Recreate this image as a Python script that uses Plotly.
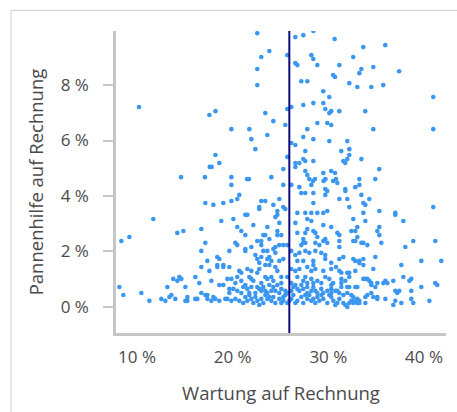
import plotly.graph_objects as go

# Wartung auf Rechnung (%) je Betrieb
wartung = [
    10.2, 17.56, 18.2, 18.2, 18.6, 17.6, 17.8, 14.6, 17.1,
    22.57, 26.55, 27.38, 28.43, 30.66, 23.83, 22.99, 25.71, 28.22, 28.43,
    26.55, 26.76, 28.85, 22.57, 30.5, 30.7, 22.57, 27.17, 27.8, 29.47, 30.1, 29.47,
    28.43, 27.38, 26.13, 25.71, 29.68, 30.3, 30.1, 23.41, 24.25, 28.85, 29.89, 30.3, 25.5,
    19.86, 21.74, 27.8, 23.62, 21.95, 27.38, 28.43, 30.1, 22.37, 26.13, 26.55, 27.59, 25.71,
    27.38, 27.59, 28.43, 26.55, 26.97, 26.55, 25.29, 27.59, 27.8, 28.01, 29.47, 30.3, 30.7,
    19.86, 21.5, 21.7, 24.04, 28.4, 28.6, 29.5, 29.7, 30.5, 19.86, 25.29, 26.13, 26.97, 28.22, 29.68,
    35.95, 33.65, 32.6, 31.15, 33.45, 33.24, 34.7, 37.4, 32.19, 33.03, 34.49, 35.74, 40.97,
    31.15, 33.86, 34.7, 40.97, 31.98, 31.35, 32.19, 32.19, 31.56, 31.77, 31.98, 33.45, 35.32,
    30.8, 30.94, 33.24, 34.91, 33.24, 32.82, 31.77,
    17.14, 17.98, 19.02, 11.70, 18.81, 14.21, 14.84, 16.72, 8.36, 9.20, 17.14, 16.72, 17.35,
    18.39, 18.6, 18.39, 18.39, 19.02, 19.02, 16.72, 17.56, 13.79, 14.21, 14.42, 14.63, 16.09,
    16.51, 17.77, 18.6, 19.02, 8.15, 13.17, 15.05, 16.72, 8.57, 10.45, 13.59, 13.38, 12.54,
    12.96, 14.0, 11.29, 15.26, 15.05, 15.26, 16.09, 16.3, 17.14, 17.35, 17.35, 17.98, 18.18,
    17.77, 18.6, 19.23,
    27.17, 27.59, 28.43, 29.68, 29.89, 20.69, 19.86, 20.48, 22.99, 23.41, 24.87, 22.78, 22.78,
    24.25, 25.29, 25.50, 28.43, 26.76, 27.59, 28.22, 28.85, 29.47, 29.89, 24.67, 24.67, 24.46,
    21.32, 21.53, 20.07, 22.16, 23.62, 24.87, 26.55, 27.8, 28.22, 29.47, 30.3, 20.48, 20.90,
    21.32, 23.2, 23.41, 24.67, 24.67, 25.08, 26.76, 27.8, 27.59, 28.43, 28.64, 28.85, 23.83,
    22.57, 22.99, 20.28, 20.48, 27.38, 27.38, 29.47, 29.68, 29.89, 25.71, 24.46, 24.87, 25.29,
    21.95, 21.32, 22.99, 27.17, 27.59, 28.64, 29.06, 19.65, 21.32, 23.2, 23.62, 24.25, 24.46,
    26.13, 26.55, 26.97, 27.59, 28.01, 28.64, 29.26, 29.68, 22.37, 22.57, 22.78, 22.99, 23.62,
    23.83, 24.04, 23.83, 23.41, 24.87, 25.29, 26.76, 27.38, 28.43, 28.43, 29.68, 30.3, 19.65,
    20.69, 20.9, 21.53, 21.95, 22.78, 22.57, 24.46, 24.67, 26.13, 26.55, 26.97, 27.8, 28.22,
    28.64, 29.47, 30.3, 19.44, 19.86, 20.48, 20.9, 21.74, 21.95, 22.16, 23.41, 23.62, 24.04,
    24.25, 25.08, 25.71, 25.08, 26.76, 27.38, 27.59, 27.17, 28.22, 28.43, 28.85, 29.68, 30.1,
    30.5, 20.07, 19.65, 21.11, 21.53, 21.95, 22.57, 22.78, 23.2, 23.41, 24.25, 24.46, 25.08,
    25.5, 26.34, 26.76, 27.38, 27.8, 28.43, 28.64, 29.26, 29.89, 30.3,
    19.44, 20.28, 21.95, 22.99, 23.62, 24.87, 26.13, 27.8, 29.47, 28.43,
    19.86, 20.69, 21.53, 22.58, 24.04, 25.29, 26.76, 28.22, 29.06, 30.52, 25.92,
    21.11, 22.16, 23.2, 24.46, 25.71, 27.38, 28.64, 29.89, 25.08, 26.55,
    22.78, 30.73,
    22.37, 27.17, 28.85, 30.31, 21.32, 23.83, 24.25, 25.29,
    25.5, 26.34, 28.01, 21.74, 23.41, 27.59, 29.27, 30.1,
    19.65, 20.9, 21.74, 22.37, 23.62, 24.87, 25.71, 27.8, 28.85, 29.47, 30.31,
    20.48, 22.99, 24.04, 26.13, 26.97, 28.22, 30.73,
    20.28, 22.99, 26.13, 27.8, 29.27,
    21.32, 23.83, 24.67, 26.55, 30.31,
    31.78, 33.45, 31.15, 31.98, 34.28, 33.66, 33.87, 32.19, 40.97, 35.33, 33.66, 37.0, 37.0,
    32.61, 33.87, 37.84, 33.03, 35.33, 32.4, 32.82, 35.12, 35.33, 30.94, 31.15, 33.03, 32.61,
    32.82, 31.15, 33.45, 33.66, 34.08, 35.54, 38.88, 41.18, 31.15, 38.05, 31.57, 31.15, 32.61,
    32.82, 33.24, 33.24, 33.66, 33.66, 34.91, 34.7, 37.63, 39.72, 41.81, 30.8, 31.15, 31.36,
    31.98, 32.19, 32.19, 32.82, 31.36, 31.36, 31.78, 31.36, 31.98, 32.19, 32.82, 33.03, 33.66,
    33.87, 34.08, 34.28, 34.49, 34.49, 35.12, 34.91, 35.75, 35.96, 36.17, 36.79, 37.84, 38.47,
    38.67, 39.72, 41.18, 41.39, 37.0, 37.21, 37.42, 38.67, 30.94, 31.15, 31.57, 31.98, 32.4,
    32.61, 33.03, 33.24, 33.87, 34.08, 34.49, 34.7, 35.12, 35.12, 35.96, 37.0, 36.79, 37.63,
    38.67, 38.88, 40.56, 31.15, 30.94, 31.57, 31.78, 31.98, 32.19, 32.4, 32.61, 32.82, 33.03,
    33.24, 33.87,
]

# Pannenhilfe auf Rechnung (%) je Betrieb, gleiche Reihenfolge
pannenhilfe = [
    7.21, 6.92, 7.06, 5.48, 5.19, 5.05, 5.05, 4.68, 4.68,
    9.87, 9.73, 9.80, 9.95, 9.66, 9.23, 9.01, 9.08, 9.08, 8.94,
    8.79, 8.72, 8.72, 8.58, 8.36, 8.29, 8.0, 8.14, 8.14, 7.78, 7.57, 7.35,
    7.35, 7.28, 7.21, 7.14, 7.14, 7.06, 6.99, 6.99, 6.70, 6.63, 6.63, 6.56, 6.56,
    6.41, 6.41, 6.41, 6.20, 6.05, 6.13, 6.05, 5.98, 5.69, 5.91, 5.84, 5.62, 5.41,
    5.33, 5.26, 5.26, 5.19, 5.19, 5.05, 4.97, 4.90, 4.76, 4.61, 4.83, 4.90, 4.83,
    4.68, 4.61, 4.61, 4.68, 4.54, 4.61, 4.54, 4.61, 4.54, 4.40, 4.40, 4.40, 4.32, 4.40, 4.25,
    9.44, 9.37, 9.01, 8.72, 8.58, 8.43, 8.65, 8.50, 8.07, 7.93, 7.93, 8.00, 7.57,
    7.06, 7.06, 6.41, 6.41, 5.98, 5.62, 5.69, 5.48, 5.26, 5.19, 5.33, 5.33, 4.97,
    4.61, 4.47, 4.61, 4.61, 4.40, 4.32, 4.25,
    3.75, 3.68, 3.75, 3.17, 3.10, 2.67, 2.74, 2.81, 2.38, 2.52, 2.31, 2.02, 1.66,
    1.80, 1.73, 1.51, 1.44, 1.51, 1.44, 1.44, 1.30, 1.01, 0.94, 1.08, 1.01, 1.08,
    0.86, 0.94, 0.79, 0.79, 0.72, 0.72, 0.72, 0.50, 0.43, 0.50, 0.43, 0.36, 0.29,
    0.22, 0.29, 0.22, 0.36, 0.22, 0.22, 0.29, 0.29, 0.43, 0.43, 0.29, 0.36, 0.29,
    0.22, 0.22, 0.29,
    4.11, 4.11, 4.11, 4.04, 4.18, 4.04, 3.82, 3.89, 3.82, 3.82, 3.89, 3.60, 3.53,
    3.68, 3.60, 3.53, 3.75, 3.39, 3.39, 3.39, 3.39, 3.39, 3.46, 3.46, 3.32, 3.24,
    3.32, 3.32, 3.17, 2.95, 2.88, 3.03, 3.03, 3.17, 3.10, 2.95, 2.88, 2.88, 2.74,
    2.59, 2.59, 2.59, 2.74, 2.59, 2.59, 2.67, 2.81, 2.67, 2.74, 2.67, 2.52, 2.45,
    2.38, 2.38, 2.31, 2.23, 2.45, 2.31, 2.38, 2.45, 2.31, 2.23, 2.16, 2.23, 2.23,
    2.16, 2.09, 2.23, 2.23, 2.31, 2.31, 2.23, 2.02, 2.02, 2.02, 2.02, 2.09, 1.95,
    2.02, 1.87, 1.95, 2.02, 1.95, 2.02, 1.95, 1.87, 1.87, 1.73, 1.59, 1.80, 1.73,
    1.80, 1.66, 1.51, 1.51, 1.66, 1.73, 1.66, 1.66, 1.66, 1.51, 1.73, 1.59, 1.44,
    1.30, 1.23, 1.37, 1.30, 1.37, 1.23, 1.44, 1.30, 1.37, 1.30, 1.37, 1.44, 1.30,
    1.37, 1.30, 1.37, 1.01, 1.01, 1.08, 0.94, 1.08, 1.01, 0.94, 1.08, 1.01, 1.08,
    0.94, 1.08, 1.08, 0.86, 1.08, 0.94, 1.08, 0.79, 1.01, 0.86, 0.94, 1.08, 1.01,
    0.86, 0.65, 0.65, 0.72, 0.65, 0.72, 0.72, 0.65, 0.72, 0.58, 0.72, 0.58, 0.65,
    0.58, 0.72, 0.65, 0.65, 0.72, 0.72, 0.58, 0.65, 0.58, 0.65,
    0.29, 0.29, 0.29, 0.29, 0.29, 0.29, 0.29, 0.29, 0.29, 0.29,
    0.22, 0.22, 0.22, 0.22, 0.22, 0.22, 0.22, 0.22, 0.22, 0.22, 0.22,
    0.14, 0.14, 0.14, 0.14, 0.14, 0.14, 0.14, 0.14, 0.14, 0.14,
    0.07, 0.07,
    0.36, 0.36, 0.36, 0.36, 0.36, 0.36, 0.36, 0.36,
    0.43, 0.43, 0.43, 0.43, 0.43, 0.43, 0.43, 0.43,
    0.50, 0.50, 0.50, 0.50, 0.50, 0.50, 0.50, 0.50, 0.50, 0.50, 0.50,
    0.58, 0.58, 0.58, 0.58, 0.58, 0.58, 0.58,
    0.86, 0.86, 0.86, 0.86, 0.86,
    0.79, 0.79, 0.79, 0.79, 0.79,
    4.18, 4.04, 3.89, 3.89, 3.89, 3.75, 3.68, 3.60, 3.60, 3.46, 3.39, 3.39, 3.32,
    3.17, 3.10, 3.10, 2.88, 2.88, 2.74, 2.74, 2.74, 2.59, 2.67, 2.59, 2.52, 2.38,
    2.38, 2.38, 2.31, 2.31, 2.23, 2.31, 2.38, 2.38, 2.16, 2.16, 1.80, 1.73, 1.73,
    1.66, 1.66, 1.58, 1.73, 1.51, 1.80, 1.37, 1.51, 1.66, 1.66, 1.44, 1.30, 1.23,
    1.23, 1.23, 1.08, 1.30, 1.01, 0.86, 0.94, 0.72, 0.72, 0.72, 0.72, 0.72, 1.01,
    1.01, 1.01, 0.94, 0.86, 0.79, 0.86, 0.72, 0.86, 0.94, 0.86, 0.94, 1.08, 0.94,
    1.01, 0.72, 0.86, 0.79, 0.58, 0.50, 0.58, 0.58, 0.58, 0.50, 0.43, 0.50, 0.43,
    0.36, 0.29, 0.22, 0.36, 0.43, 0.50, 0.36, 0.36, 0.29, 0.29, 0.22, 0.07, 0.14,
    0.29, 0.14, 0.22, 0.29, 0.14, 0.14, 0.07, 0.0, 0.14, 0.22, 0.14, 0.22, 0.14,
    0.14, 0.14,
]

# Senkrechte Referenzlinie (Mittelwert Wartung)
mittelwert_wartung = 25.92

x_ticks = [10, 20, 30, 40]
x_ticktext = ["10 %", "20 %", "30 %", "40 %"]
y_ticks = [0, 2, 4, 6, 8]
y_ticktext = ["0 %", "2 %", "4 %", "6 %", "8 %"]

achsen_grau = "#c6c6c6"
text_grau = "#4a4a4a"
schrift = "Open Sans"

fig = go.Figure()
fig.add_trace(go.Scatter(
    x=wartung,
    y=pannenhilfe,
    mode="markers",
    marker=dict(size=4.6, color="#3a96ef", line=dict(width=0)),
    hoverinfo="x+y",
    showlegend=False,
))

# Mittelwertlinie über die ganze Plothöhe
fig.add_shape(
    type="line", xref="x", yref="paper",
    x0=mittelwert_wartung, x1=mittelwert_wartung, y0=0, y1=1,
    line=dict(color="#0b0b7e", width=2),
)

# heller Rahmen um den Diagrammbereich
fig.add_shape(
    type="rect", xref="paper", yref="paper",
    x0=-0.318, x1=1.2, y0=-0.3, y1=1.068,
    line=dict(color="#d6d6d6", width=1.2),
    fillcolor="rgba(0,0,0,0)",
    layer="below",
)

fig.update_layout(
    width=457,
    height=412,
    margin=dict(l=116, r=11, t=31, b=79),
    paper_bgcolor="white",
    plot_bgcolor="white",
    font=dict(family=schrift, color=text_grau, size=17),
    xaxis=dict(
        range=[7.8, 42.3],
        tickvals=x_ticks,
        ticktext=x_ticktext,
        showgrid=False,
        zeroline=False,
        showline=True,
        linecolor=achsen_grau,
        linewidth=2.5,
        ticks="",
        ticklabelstandoff=7,
        tickfont=dict(size=17, color=text_grau),
        title=dict(text="Wartung auf Rechnung", font=dict(size=18.5, color=text_grau), standoff=20),
    ),
    yaxis=dict(
        range=[-0.94, 9.95],
        tickvals=y_ticks,
        ticktext=y_ticktext,
        showgrid=False,
        zeroline=False,
        showline=True,
        linecolor=achsen_grau,
        linewidth=2.5,
        ticks="outside",
        ticklen=10,
        tickwidth=2,
        tickcolor=achsen_grau,
        ticklabelstandoff=11,
        tickfont=dict(size=17, color=text_grau),
        title=dict(text="Pannenhilfe auf Rechnung", font=dict(size=18.5, color=text_grau), standoff=13),
    ),
)

fig.write_html("out.html")
